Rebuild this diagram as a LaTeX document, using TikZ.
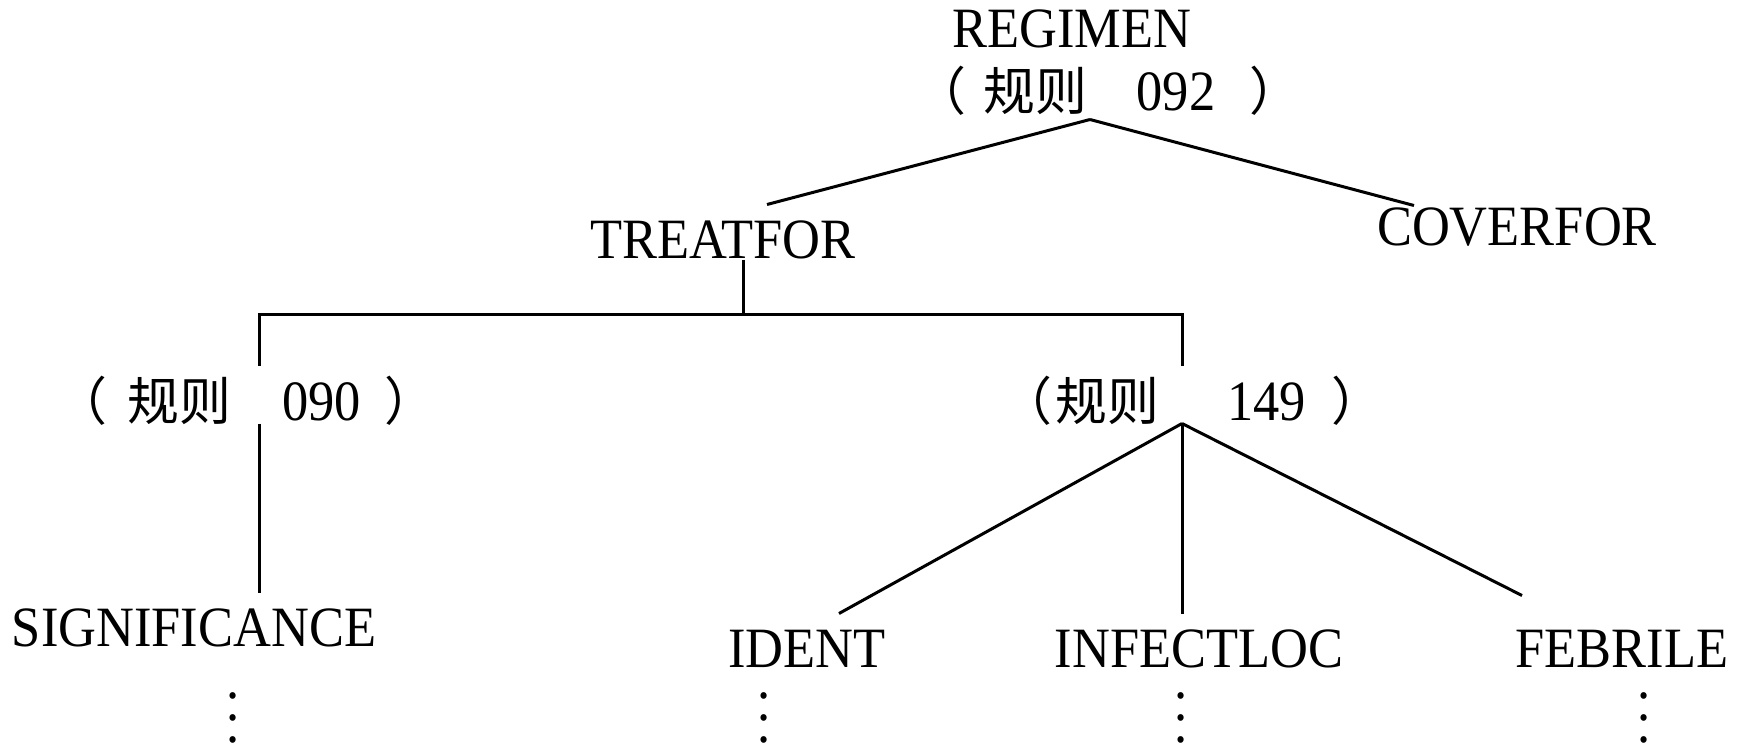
\documentclass[tikz,border=0pt]{standalone}
\usepackage{fontspec}
\setmainfont{Liberation Serif}[FakeStretch=0.92]
\newfontfamily\cjk{Noto Sans CJK SC}[Scale=0.91]
\newcommand{\vdotsx}{\vbox{\baselineskip=11pt\lineskiplimit=-20pt\hbox{.}\hbox{.}\hbox{.}}}

\begin{document}
\begin{tikzpicture}[x=0.5pt,y=-0.5pt,line width=1.5pt,
    every node/.style={inner sep=0pt,font=\fontsize{28.5}{32}\selectfont},
    word node/.style={anchor=base,text height=26pt,text depth=0pt},
    rule node/.style={anchor=base,text height=26.5pt,text depth=1pt}]

  \useasboundingbox (0,0) rectangle (1737,746);

  % top of the tree
  \node[word node] (regimen) at (1072,47) {REGIMEN};
  \node[rule node] (r092) at (1108,110) {{\cjk （}\hspace{8.6pt}{\cjk 规则}\hspace{24.5pt}092\hspace{17pt}{\cjk ）}};
  \node[word node] (tf) at (723,258) {TREATFOR};
  \node[word node] (cf) at (1517,245) {COVERFOR};

  % middle level
  \node[rule node] (r090) at (246,420) {{\cjk （}\hspace{10pt}{\cjk 规则}\hspace{25.5pt}090\hspace{12pt}{\cjk ）}};
  \node[rule node] (r149) at (1192,420) {{\cjk （}\hspace{1.6pt}{\cjk 规则}\hspace{34pt}149\hspace{13pt}{\cjk ）}};

  % leaves
  \node[word node] (sig) at (194,646) {SIGNIFICANCE};
  \node[word node] (ident) at (807,667) {IDENT};
  \node[word node] (infect) at (1199,667) {INFECTLOC};
  \node[word node] (febrile) at (1622,667) {FEBRILE};

  \node (dsig) at (233,718) {\vdotsx};
  \node (dident) at (764,718) {\vdotsx};
  \node (dinfect) at (1181,718) {\vdotsx};
  \node (dfebrile) at (1644,718) {\vdotsx};

  \coordinate (bar) at (743,314);
  \coordinate (j092) at ([xshift=-9pt,yshift=-3pt]r092.south);
  \coordinate (j090) at ([xshift=6.5pt]r090.south);
  \coordinate (j149) at ([xshift=-5pt]r149.south);

  \draw (j092) -- ([xshift=22pt]tf.north);
  \draw (j092) -- ([xshift=-51.5pt,yshift=-7pt]cf.north);
  \draw (bar |- tf.south) -- (bar);
  \draw (j090 |- r090.north) |- (bar) -| (j149 |- r149.north);
  \draw (j090) -- (j090 |- sig.north);
  \draw (j149) -- ([xshift=16pt]ident.north);
  \draw (j149) -- (j149 |- infect.north);
  \draw (j149) -- ([xshift=-50pt,yshift=9pt]febrile.north);
\end{tikzpicture}
\end{document}
